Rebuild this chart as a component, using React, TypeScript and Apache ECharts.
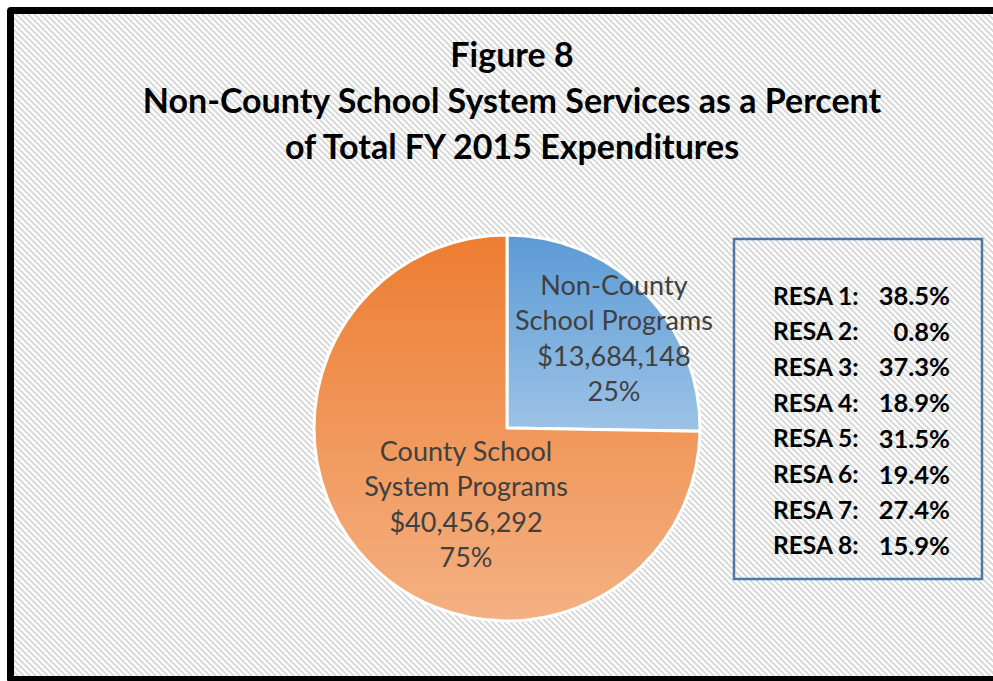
import React, { useEffect, useRef } from "react";
import * as echarts from "echarts";

const titleLines = [
  "Figure 8",
  "Non-County School System Services as a Percent",
  "of Total FY 2015 Expenditures",
];
const sliceNames = ["Non-County School Programs", "County School System Programs"];
const sliceLabelLines = [
  ["Non-County", "School Programs"],
  ["County School", "System Programs"],
];
const sliceAmounts = [13684148, 40456292];
const resaNames = ["RESA 1", "RESA 2", "RESA 3", "RESA 4", "RESA 5", "RESA 6", "RESA 7", "RESA 8"];
const resaPercents = [38.5, 0.8, 37.3, 18.9, 31.5, 19.4, 27.4, 15.9];

const FONT = "Lato, 'Open Sans', sans-serif";

const hatchSvg =
  "<svg xmlns='http://www.w3.org/2000/svg' width='6' height='6' shape-rendering='crispEdges'>" +
  "<rect width='6' height='6' fill='#ffffff'/>" +
  "<polygon points='0,0 3,0 6,3 6,6' fill='#dcdcdc'/>" +
  "<polygon points='0,3 3,6 0,6' fill='#dcdcdc'/>" +
  "</svg>";
const hatchUrl = `url("data:image/svg+xml;utf8,${encodeURIComponent(hatchSvg)}")`;

export default function App() {
  const ref = useRef<HTMLDivElement>(null);

  useEffect(() => {
    if (!ref.current) return;
    const chart = echarts.init(ref.current, undefined, { renderer: "svg" });

    const gradBlue = new echarts.graphic.LinearGradient(0, 0, 0, 1, [
      { offset: 0, color: "#5B9BD5" },
      { offset: 1, color: "#9DC3E6" },
    ]);
    const gradOrange = new echarts.graphic.LinearGradient(0, 0, 0, 1, [
      { offset: 0, color: "#ED7D31" },
      { offset: 1, color: "#F4B183" },
    ]);
    const fills = [gradBlue, gradOrange];
    const offsets = [
      [36, -21],
      [30, 6],
    ];

    const fmtMoney = (v: number) => "$" + v.toLocaleString("en-US");

    const rowTop = 295;
    const rowStep = 35.7;
    const resaTexts: any[] = [];
    resaNames.forEach((n, i) => {
      resaTexts.push({
        type: "text",
        x: 773,
        y: rowTop + i * rowStep,
        style: {
          text: n + ":",
          font: `bold 24.5px ${FONT}`,
          fill: "#000",
          textAlign: "left",
          textVerticalAlign: "middle",
        },
      });
      resaTexts.push({
        type: "text",
        x: 950,
        y: rowTop + i * rowStep,
        style: {
          text: resaPercents[i].toFixed(1) + "%",
          font: `bold 25.5px ${FONT}`,
          fill: "#000",
          textAlign: "right",
          textVerticalAlign: "middle",
        },
      });
    });

    chart.setOption({
      animation: false,
      backgroundColor: "transparent",
      title: {
        text: titleLines.join("\n"),
        left: 507,
        top: 25,
        textAlign: "center",
        textStyle: {
          fontFamily: FONT,
          fontWeight: "bold",
          fontSize: 34,
          lineHeight: 46,
          color: "#000",
        },
      },
      series: [
        {
          type: "pie",
          center: [507, 428],
          radius: 193,
          startAngle: 90,
          clockwise: true,
          silent: true,
          itemStyle: { borderColor: "#fff", borderWidth: 3 },
          labelLine: { show: false },
          data: sliceNames.map((name, i) => ({
            name,
            value: sliceAmounts[i],
            itemStyle: { color: fills[i] },
            label: {
              show: true,
              position: "inside",
              offset: offsets[i],
              formatter: (p: any) =>
                [...sliceLabelLines[i], fmtMoney(p.value), Math.round(p.percent) + "%"].join("\n"),
              fontFamily: FONT,
              fontSize: 27,
              lineHeight: 35.5,
              color: "#404040",
              align: "center",
            },
          })),
        },
      ],
      graphic: [
        {
          type: "rect",
          shape: { x: 734, y: 239, width: 248, height: 340 },
          style: { fill: "transparent", stroke: "#4A78AD", lineWidth: 2.5 },
        },
        ...resaTexts,
      ],
    });

    return () => chart.dispose();
  }, []);

  return (
    <div style={{ position: "fixed", left: 0, top: 0, width: 993, height: 681, background: "#fff", overflow: "hidden" }}>
      <div
        style={{
          position: "absolute",
          left: 7,
          top: 7,
          width: 1010,
          height: 676,
          boxSizing: "border-box",
          border: "7px solid #000",
          borderRadius: 4,
          backgroundImage: hatchUrl,
          backgroundRepeat: "repeat",
          backgroundSize: "6px 6px",
        }}
      />
      <div ref={ref} style={{ position: "absolute", left: 0, top: 0, width: 993, height: 681 }} />
    </div>
  );
}
